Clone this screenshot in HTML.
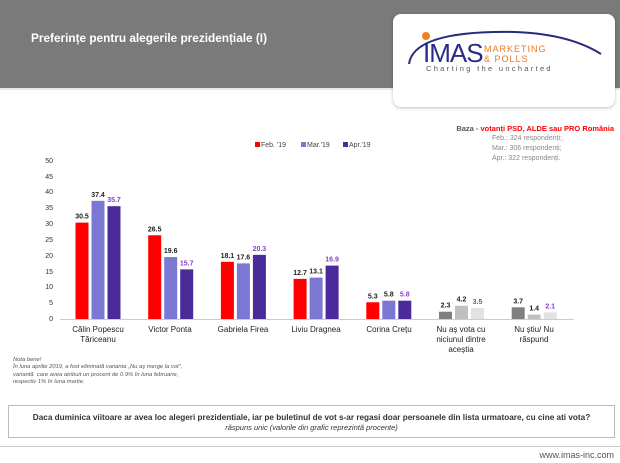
<!DOCTYPE html>
<html><head><meta charset="utf-8"><style>
body{margin:0;width:620px;height:463px;overflow:hidden;background:#fff;font-family:"Liberation Sans",Arial,sans-serif;position:relative}
.a{position:absolute}
</style></head><body>
<div class="a" style="left:0;top:0;width:620px;height:88px;background:#7a7a7a"></div>
<div class="a" style="left:0;top:88px;width:620px;height:2px;background:#e8e8e8"></div>
<div class="a" style="left:31px;top:31px;color:#fff;font-size:11.8px;font-weight:bold">Preferințe pentru alegerile prezidențiale (I)</div>
<div class="a" style="left:393px;top:14px;width:222px;height:93px;background:#fff;border-radius:8px;box-shadow:0 1px 3px rgba(0,0,0,.25)"></div>
<svg class="a" style="left:393px;top:14px" width="222" height="93">
<path d="M16 50 Q20 20 100 18 Q170 16 208 40" fill="none" stroke="#2a2a7a" stroke-width="2"/>
<circle cx="33" cy="22" r="4" fill="#f08020"/>
<text x="30" y="48" font-family="Liberation Sans" font-size="26" fill="#2a2a8a" letter-spacing="-1">IMAS</text>
<text x="91" y="38" font-family="Liberation Sans" font-size="9" fill="#f07820" letter-spacing="1">MARKETING</text>
<text x="91" y="48" font-family="Liberation Sans" font-size="9" fill="#f07820" letter-spacing="1">&amp; POLLS</text>
<text x="33" y="57" font-family="Liberation Sans" font-size="7.5" fill="#555" letter-spacing="2.3">Charting the uncharted</text>
</svg>
<div class="a" style="right:6px;top:124px;font-size:7.5px;font-weight:bold;color:#555">Baza - <span style="color:#f00">votanți PSD, ALDE sau PRO România</span></div>
<div class="a" style="left:492px;top:134px;font-size:7px;color:#888;line-height:10px">Feb.: 324 respondenți;<br>Mar.: 306 respondenți;<br>Apr.: 322 respondenți.</div>
<svg class="a" style="left:0;top:0" width="620" height="360" font-family="Liberation Sans">
<g font-size="7" fill="#444">
<rect x="255" y="142" width="5" height="5" fill="#f00"/><text x="261" y="147">Feb. '19</text>
<rect x="301" y="142" width="5" height="5" fill="#7b78d4"/><text x="307" y="147">Mar.'19</text>
<rect x="343" y="142" width="5" height="5" fill="#4b2a9a"/><text x="349" y="147">Apr.'19</text>
</g>
<g font-size="7" fill="#333" text-anchor="end">
<text x="53" y="321">0</text><text x="53" y="305">5</text><text x="53" y="289">10</text><text x="53" y="274">15</text><text x="53" y="258">20</text><text x="53" y="242">25</text><text x="53" y="226">30</text><text x="53" y="210">35</text><text x="53" y="194">40</text><text x="53" y="179">45</text><text x="53" y="163">50</text>
</g>
<line x1="60" y1="319.5" x2="574" y2="319.5" stroke="#ccc"/>
<g id="bars"></g>
<g font-size="8" fill="#222" text-anchor="middle">
<text x="98" y="332">Călin Popescu</text><text x="98" y="342">Tăriceanu</text>
<text x="170" y="332">Victor Ponta</text>
<text x="243" y="332">Gabriela Firea</text>
<text x="316" y="332">Liviu Dragnea</text>
<text x="389" y="332">Corina Crețu</text>
<text x="461" y="332">Nu aș vota cu</text><text x="461" y="342">niciunul dintre</text><text x="461" y="352">aceștia</text>
<text x="534" y="332">Nu știu/ Nu</text><text x="534" y="342">răspund</text>
</g>
</svg>
<div class="a" style="left:13px;top:357px;font-size:5.8px;font-style:italic;color:#555;line-height:7.3px">Nota bene!<br>În luna aprilie 2019, a fost eliminată varianta „Nu aş merge la vot",<br>variantă&nbsp; care avea atribuit un procent de 0.9% în luna februarie,<br>respectiv 1% în luna martie.</div>
<div class="a" style="left:8px;top:405px;width:605px;height:31px;border:1px solid #bbb;text-align:center">
<div style="font-size:8.2px;font-weight:bold;color:#333;margin-top:7px">Daca duminica viitoare ar avea loc alegeri prezidentiale, iar pe buletinul de vot s-ar regasi doar persoanele din lista urmatoare, cu cine ati vota?</div>
<div style="font-size:7.5px;font-style:italic;color:#333;margin-top:1px">răspuns unic (valorile din grafic reprezintă procente)</div>
</div>
<div class="a" style="left:0;top:446px;width:620px;height:1px;background:#ccc"></div>
<div class="a" style="right:6px;top:450px;font-size:9px;color:#555">www.imas-inc.com</div>
<script>
var d=[[30.5,37.4,35.7],[26.5,19.6,15.7],[18.1,17.6,20.3],[12.7,13.1,16.9],[5.3,5.8,5.8],[2.3,4.2,3.5],[3.7,1.4,2.1]];
var g=document.getElementById('bars'),s='';
var cols=['#f00','#7b78d4','#4b2a9a'],gc=['#7f7f7f','#c0c0c0','#e2e2e2'];
d.forEach(function(r,i){var cx=98+i*72.7;r.forEach(function(v,j){var x=cx-22.5+j*16,h=v*3.16,y=319-h;
var c=i>=5?gc[j]:cols[j];s+='<rect x="'+x+'" y="'+y+'" width="13" height="'+h+'" fill="'+c+'"/>';
s+='<text x="'+(x+6.5)+'" y="'+(y-4)+'" font-size="7" font-weight="bold" text-anchor="middle" fill="'+(j==2?'#8a3fc8':'#222')+'">'+v.toFixed(1)+'</text>';});});
g.innerHTML=s;
</script>
</body></html>
